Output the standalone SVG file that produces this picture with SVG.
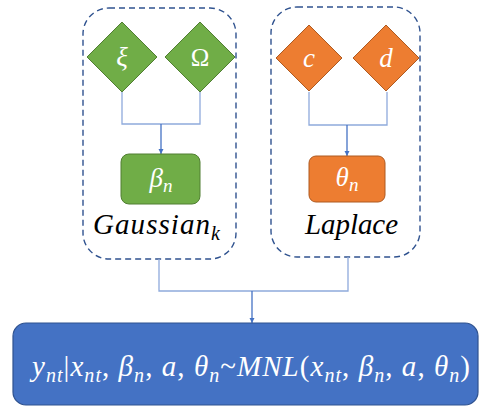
<svg xmlns="http://www.w3.org/2000/svg" width="480" height="407" viewBox="0 0 480 407">
  <defs>
    <marker id="arrow" viewBox="0 0 10 10" refX="10" refY="5" markerWidth="4" markerHeight="4" markerUnits="strokeWidth" orient="auto">
      <path d="M0,0 L10,5 L0,10 Z" fill="#4472C4"/>
    </marker>
    <style>
      .group { fill: none; stroke: #2F528F; stroke-width: 1.4; stroke-dasharray: 6 4; }
      .green { fill: #70AD47; stroke: #507E32; stroke-width: 1; }
      .orange { fill: #ED7D31; stroke: #AE5A21; stroke-width: 1; }
      .blue { fill: #4472C4; stroke: #2F528F; stroke-width: 1.2; }
      .elbow { fill: none; stroke: #8FAADC; stroke-width: 1.3; }
      .arrow { fill: none; stroke: #4472C4; stroke-width: 1.3; marker-end: url(#arrow); }
      .math { font-family: "Liberation Serif", "DejaVu Serif", serif; font-style: italic; }
      .lbl { fill: #FFFFFF; text-anchor: middle; }
      .cap { fill: #000000; font-size: 29px; }
      .up { font-style: normal; }
    </style>
  </defs>

  <!-- plates -->
  <g id="plate-gaussian">
    <rect class="group" x="83" y="8" width="153" height="251" rx="26"/>
    <text class="math cap" x="93" y="234" textLength="127" lengthAdjust="spacing">Gaussian<tspan dy="6" font-size="20">k</tspan></text>
  </g>
  <g id="plate-laplace">
    <rect class="group" x="271" y="7" width="149" height="250" rx="26"/>
    <text class="math cap" x="305" y="234" textLength="93" lengthAdjust="spacing">Laplace</text>
  </g>

  <!-- connectors -->
  <g id="connectors">
    <path class="elbow" d="M122,91 V124 H200 V91"/>
    <path class="arrow" d="M161,124 V154"/>
    <path class="elbow" d="M309,92 V125 H387 V92"/>
    <path class="arrow" d="M347,125 V156"/>
    <path class="elbow" d="M159,259 V291 H348 V257"/>
    <path class="arrow" d="M252,291 V323"/>
  </g>

  <!-- nodes -->
  <g id="xi">
    <polygon class="green" points="122,22 157,57 122,92 87,57"/>
    <text class="math lbl" x="122" y="66" font-size="27">ξ</text>
  </g>
  <g id="omega">
    <polygon class="green" points="200,22 235,57 200,92 165,57"/>
    <text class="math lbl up" x="200" y="66" font-size="25">Ω</text>
  </g>
  <g id="beta">
    <rect class="green" x="121" y="154" width="79" height="50" rx="8"/>
    <text class="math lbl" x="161" y="187" font-size="27">β<tspan dy="5" font-size="19">n</tspan></text>
  </g>
  <g id="c">
    <polygon class="orange" points="309,25 342,58 309,91 276,58"/>
    <text class="math lbl" x="309" y="67" font-size="27">c</text>
  </g>
  <g id="d">
    <polygon class="orange" points="386,25 419,58 386,91 353,58"/>
    <text class="math lbl" x="386" y="67" font-size="27">d</text>
  </g>
  <g id="theta">
    <rect class="orange" x="309" y="156" width="76" height="46" rx="7"/>
    <text class="math lbl" x="347" y="186" font-size="27">θ<tspan dy="5" font-size="19">n</tspan></text>
  </g>
  <g id="mnl">
    <rect class="blue" x="13" y="323" width="465" height="82" rx="13"/>
    <text class="math" fill="#FFFFFF" x="32" y="376" font-size="29" textLength="438" lengthAdjust="spacing">y<tspan dy="6" font-size="20">nt</tspan><tspan dy="-6" class="up">|</tspan>x<tspan dy="6" font-size="20">nt</tspan><tspan dy="-6" class="up">, </tspan>β<tspan dy="6" font-size="20">n</tspan><tspan dy="-6" class="up">, </tspan>a<tspan class="up">, </tspan>θ<tspan dy="6" font-size="20">n</tspan><tspan dy="-6" class="up">~</tspan>MNL<tspan class="up">(</tspan>x<tspan dy="6" font-size="20">nt</tspan><tspan dy="-6" class="up">, </tspan>β<tspan dy="6" font-size="20">n</tspan><tspan dy="-6" class="up">, </tspan>a<tspan class="up">, </tspan>θ<tspan dy="6" font-size="20">n</tspan><tspan dy="-6" class="up">)</tspan></text>
  </g>
</svg>
